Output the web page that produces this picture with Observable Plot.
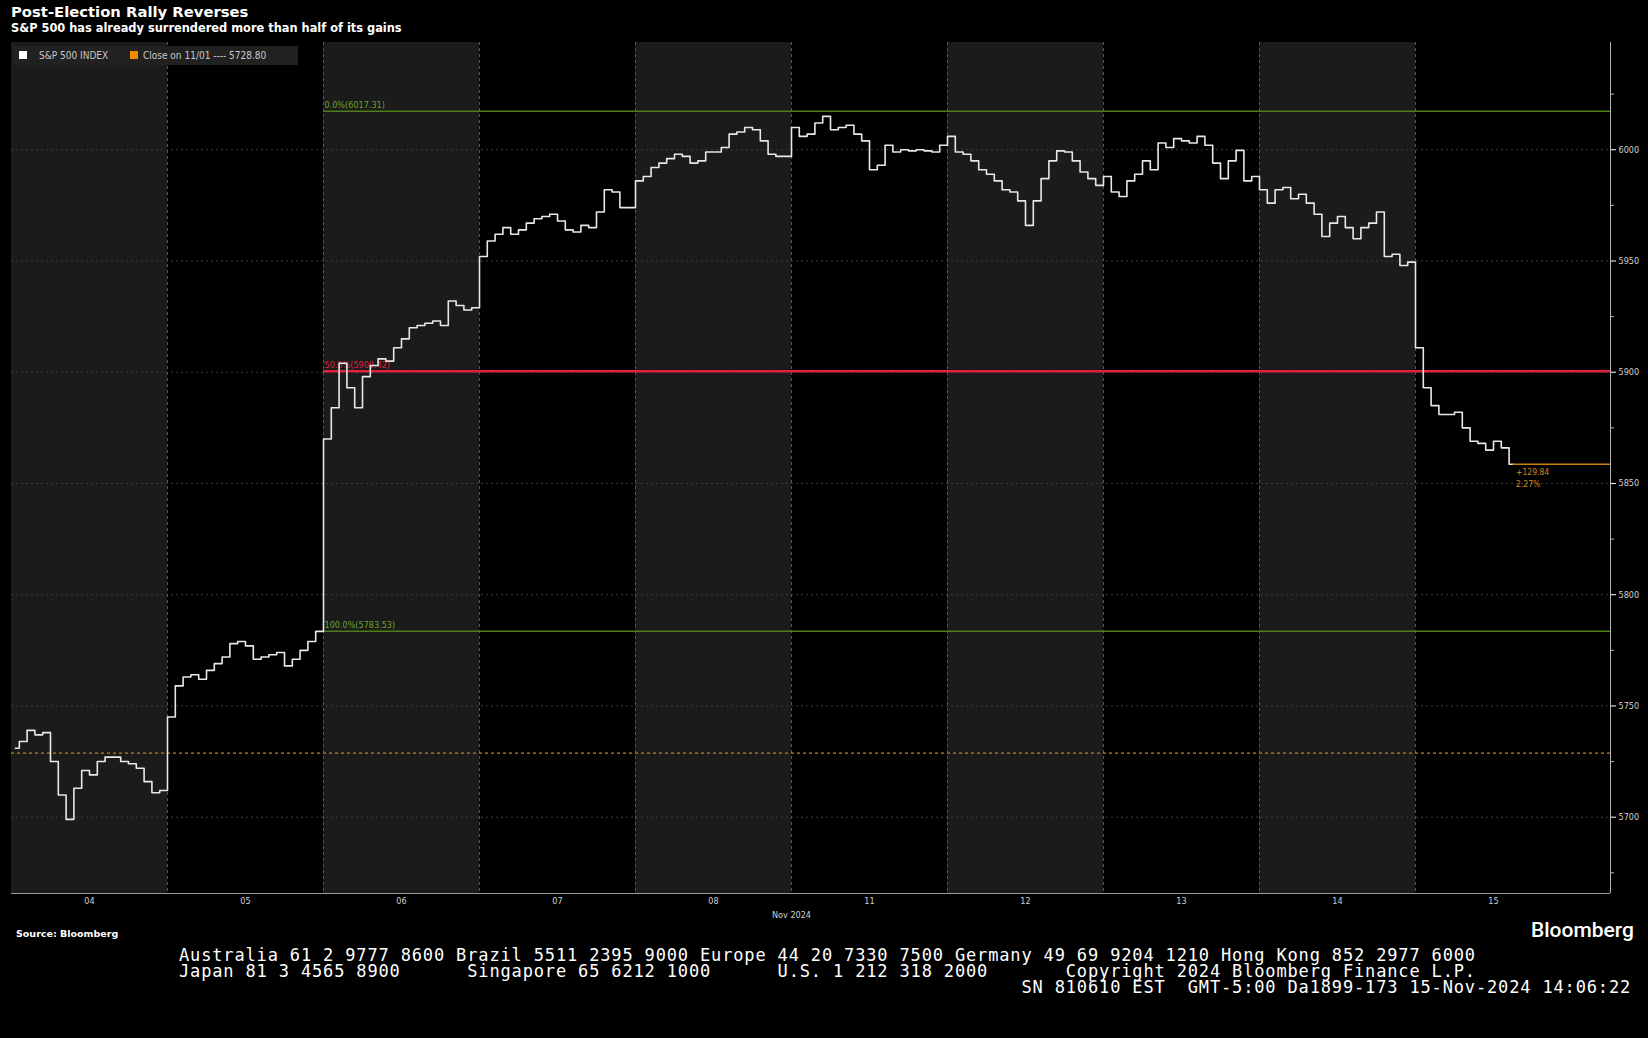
<!DOCTYPE html>
<html>
<head>
<meta charset="utf-8">
<script src="https://cdn.jsdelivr.net/npm/d3@7"></script>
<script src="https://cdn.jsdelivr.net/npm/@observablehq/plot@0.6"></script>
<style>
  html, body { margin: 0; padding: 0; background: #000; }
  #wrap { position: relative; width: 1648px; height: 1038px; background: #000; overflow: hidden;
          font-family: "Liberation Sans Narrow", "DejaVu Sans Condensed", Roboto, sans-serif; }
  #chart { position: absolute; left: 0; top: 0; }
  .abs { position: absolute; white-space: pre; z-index: 2; }
  #title { left: 11px; top: 3px; color: #fff; font: bold 14.8px "DejaVu Sans", sans-serif; }
  #subtitle { left: 11px; top: 21px; color: #fff; font: bold 11.4px "DejaVu Sans", sans-serif; }
  #legend { left: 13px; top: 46px; width: 285px; height: 19px; background: #212121; }
  .sq { position: absolute; top: 5px; width: 8px; height: 8px; }
  .lg { position: absolute; top: 2px; font-size: 10px; line-height: 15px; color: #c8c8c8; }
  #source { left: 16px; top: 928px; color: #fff; font: bold 9.5px "DejaVu Sans", sans-serif; }
  #logo { left: 1531px; top: 918px; color: #fff; font: 500 21px Roboto, sans-serif; }
  #footer { left: 179px; top: 947px; color: #fff; font: 17px/16px "DejaVu Sans Mono", monospace; letter-spacing: 0.85px; }
</style>
</head>
<body>
<div id="wrap">
  <div id="chart"></div>
  <div class="abs" id="title"></div>
  <div class="abs" id="subtitle"></div>
  <div class="abs" id="legend">
    <div class="sq" style="left:6px;background:#ffffff"></div>
    <div class="lg" id="lg1" style="left:26px"></div>
    <div class="sq" style="left:117px;background:#f08c00"></div>
    <div class="lg" id="lg2" style="left:130px"></div>
  </div>
  <div class="abs" id="source"></div>
  <div class="abs" id="logo"></div>
  <div class="abs" id="footer"></div>
</div>
<script>
// ---------- text ----------
const titleText = "Post-Election Rally Reverses";
const subtitleText = "S&P 500 has already surrendered more than half of its gains";
const legendSeries = "S&P 500 INDEX";
const legendClose = "Close on 11/01 ---- 5728.80";
const sourceText = "Source: Bloomberg";
const logoText = "Bloomberg";
const footerLines = [
  "Australia 61 2 9777 8600 Brazil 5511 2395 9000 Europe 44 20 7330 7500 Germany 49 69 9204 1210 Hong Kong 852 2977 6000",
  "Japan 81 3 4565 8900      Singapore 65 6212 1000      U.S. 1 212 318 2000       Copyright 2024 Bloomberg Finance L.P.",
  "                                                                            SN 810610 EST  GMT-5:00 Da1899-173 15-Nov-2024 14:06:22"
];

// ---------- categories / ticks ----------
const dayLabels = ["04", "05", "06", "07", "08", "11", "12", "13", "14", "15"];
const axisLabel = "Nov 2024";
const yTicks = [5700, 5750, 5800, 5850, 5900, 5950, 6000];
const yMinorTicks = [5675, 5725, 5775, 5825, 5875, 5925, 5975, 6025];

// ---------- S&P 500 intraday values (~20 per session) ----------
const nov04 = [5731, 5734, 5739, 5737, 5738, 5725, 5710, 5699, 5713, 5721, 5719, 5725, 5727, 5727, 5725, 5724, 5722, 5716, 5711, 5712];
const nov05 = [5745, 5759, 5763, 5764, 5762, 5766, 5769, 5772, 5778, 5779, 5777, 5771, 5772, 5773, 5774, 5768, 5771, 5775, 5779, 5783.5];
const nov06 = [5870, 5884, 5904, 5893, 5884, 5898, 5903, 5906, 5905, 5911, 5915, 5920, 5921, 5922, 5923, 5921, 5932, 5930, 5928, 5929];
const nov07 = [5952, 5959, 5962, 5965, 5962, 5964, 5967, 5969, 5970, 5971, 5968, 5964, 5963, 5966, 5965, 5972, 5982, 5981, 5974, 5974];
const nov08 = [5986, 5988, 5992, 5994, 5996, 5998, 5997, 5994, 5995, 5999, 5999, 6001, 6007, 6008, 6010, 6009, 6004, 5998, 5997, 5997];
const nov11 = [6010, 6006, 6007, 6012, 6015, 6009, 6010, 6011, 6007, 6004, 5991, 5993, 6002, 5999, 6000, 5999.5, 6000, 5999.5, 5999, 6002];
const nov12 = [6006, 5999, 5998, 5995, 5991, 5989, 5986, 5982, 5981, 5977, 5966, 5977, 5987, 5995, 5999.5, 5999, 5995, 5990, 5987, 5984];
const nov13 = [5988, 5981, 5979, 5986, 5989, 5995, 5991, 6003, 6001, 6005, 6004, 6003, 6006, 6002, 5994, 5987, 5995, 5999.7, 5986, 5988];
const nov14 = [5982, 5976, 5982, 5983, 5978, 5980, 5976, 5971, 5961, 5967, 5970, 5965, 5960, 5965, 5967, 5972, 5952, 5953, 5948, 5949.5];
const nov15 = [5911, 5893, 5885, 5881, 5881, 5882, 5875, 5869, 5868, 5865, 5869, 5866, 5858.64];

// ---------- reference levels ----------
const closeNov01 = 5728.80;
const fibLevels = [6017.31, 5900.42, 5783.53];
const fibLabels = ["0.0%(6017.31)", "50.0%(5900.42)", "100.0%(5783.53)"];
const lastChangeLabels = ["+129.84", "2.27%"];

// ---------- build ----------
document.getElementById("title").textContent = titleText;
document.getElementById("subtitle").textContent = subtitleText;
document.getElementById("lg1").textContent = legendSeries;
document.getElementById("lg2").textContent = legendClose;
document.getElementById("source").textContent = sourceText;
document.getElementById("logo").textContent = logoText;
document.getElementById("footer").textContent = footerLines.join("\n");

const sessions = [nov04, nov05, nov06, nov07, nov08, nov11, nov12, nov13, nov14, nov15];
const perSession = 20;
const series = sessions.flatMap((vals, d) => vals.map((v, k) => ({x: d + (k + 0.5) / perSession, y: v})));
const last = series[series.length - 1];

const xMax = 10.25;
const yMin = 5665.7, yMax = 6048.2;
const fibStart = 2; // Nov 6 session
const shaded = dayLabels.map((_, i) => i).filter(i => i % 2 === 0);
const boundaries = dayLabels.map((_, i) => i).filter(i => i > 0);
const centers = dayLabels.map((_, i) => i + 0.5);

const green = "#4f7d18", red = "#e0213d", orange = "#c9800f";
const fibColors = [green, red, green];

const chart = Plot.plot({
  width: 1648,
  height: 930,
  marginTop: 42,
  marginBottom: 37,
  marginLeft: 11,
  marginRight: 38,
  style: {background: "transparent", color: "#cfcfcf", fontFamily: "'Liberation Sans Narrow', 'DejaVu Sans Condensed', Roboto, sans-serif", fontSize: "9px"},
  x: {domain: [0, xMax], axis: null},
  y: {domain: [yMin, yMax], axis: null},
  marks: [
    Plot.rect(shaded, {x1: d => d, x2: d => d + 1, y1: () => yMin, y2: () => yMax, fill: "#1b1b1b"}),
    Plot.ruleY(yTicks, {stroke: "#3d3d3d", strokeDasharray: "2,3"}),
    Plot.ruleX(boundaries, {stroke: "#555", strokeDasharray: "3,3"}),
    Plot.ruleY([closeNov01], {stroke: orange, strokeDasharray: "3,3", strokeWidth: 1.2}),
    ...fibLevels.map((lv, i) => Plot.ruleY([lv], {x1: () => fibStart, x2: () => xMax, stroke: fibColors[i], strokeWidth: i === 1 ? 2.6 : 1.5})),
    ...fibLevels.map((lv, i) => Plot.text([fibLabels[i]], {x: () => fibStart, y: () => lv, text: d => d, dy: -6, dx: 1, textAnchor: "start", fill: fibColors[i] === green ? "#6fa326" : red, fontSize: 9})),
    Plot.line(series, {x: "x", y: "y", curve: "step", stroke: "#e8e8e8", strokeWidth: 1.6}),
    Plot.ruleY([last.y], {x1: () => last.x, x2: () => xMax, stroke: orange, strokeWidth: 1.3}),
    Plot.text([lastChangeLabels[0]], {x: () => last.x, y: () => last.y, text: d => d, dy: 8, dx: 3, textAnchor: "start", fill: "#d58a12", fontSize: 8.5}),
    Plot.text([lastChangeLabels[1]], {x: () => last.x, y: () => last.y, text: d => d, dy: 20, dx: 3, textAnchor: "start", fill: "#d58a12", fontSize: 8.5}),
    Plot.ruleY([yMin], {stroke: "#9a9a9a"}),
    Plot.ruleX([xMax], {stroke: "#b5b5b5"}),
    Plot.axisY({anchor: "right", ticks: yTicks, tickSize: 5, tickPadding: 3, tickFormat: d => String(d), stroke: "#fff", fill: "#d0d0d0", fontSize: 9, label: null}),
    Plot.axisY({anchor: "right", ticks: yMinorTicks, tickSize: 3, tickFormat: () => "", stroke: "#bbb", label: null}),
    Plot.axisX({anchor: "bottom", ticks: centers, tickSize: 0, tickPadding: 4, tickFormat: d => dayLabels[Math.floor(d)], fill: "#d0d0d0", fontSize: 9, label: null}),
    Plot.text([axisLabel], {x: () => 5, y: () => yMin, text: d => d, dy: 22, fill: "#d0d0d0", fontSize: 9})
  ]
});
document.getElementById("chart").appendChild(chart);
</script>
</body>
</html>
